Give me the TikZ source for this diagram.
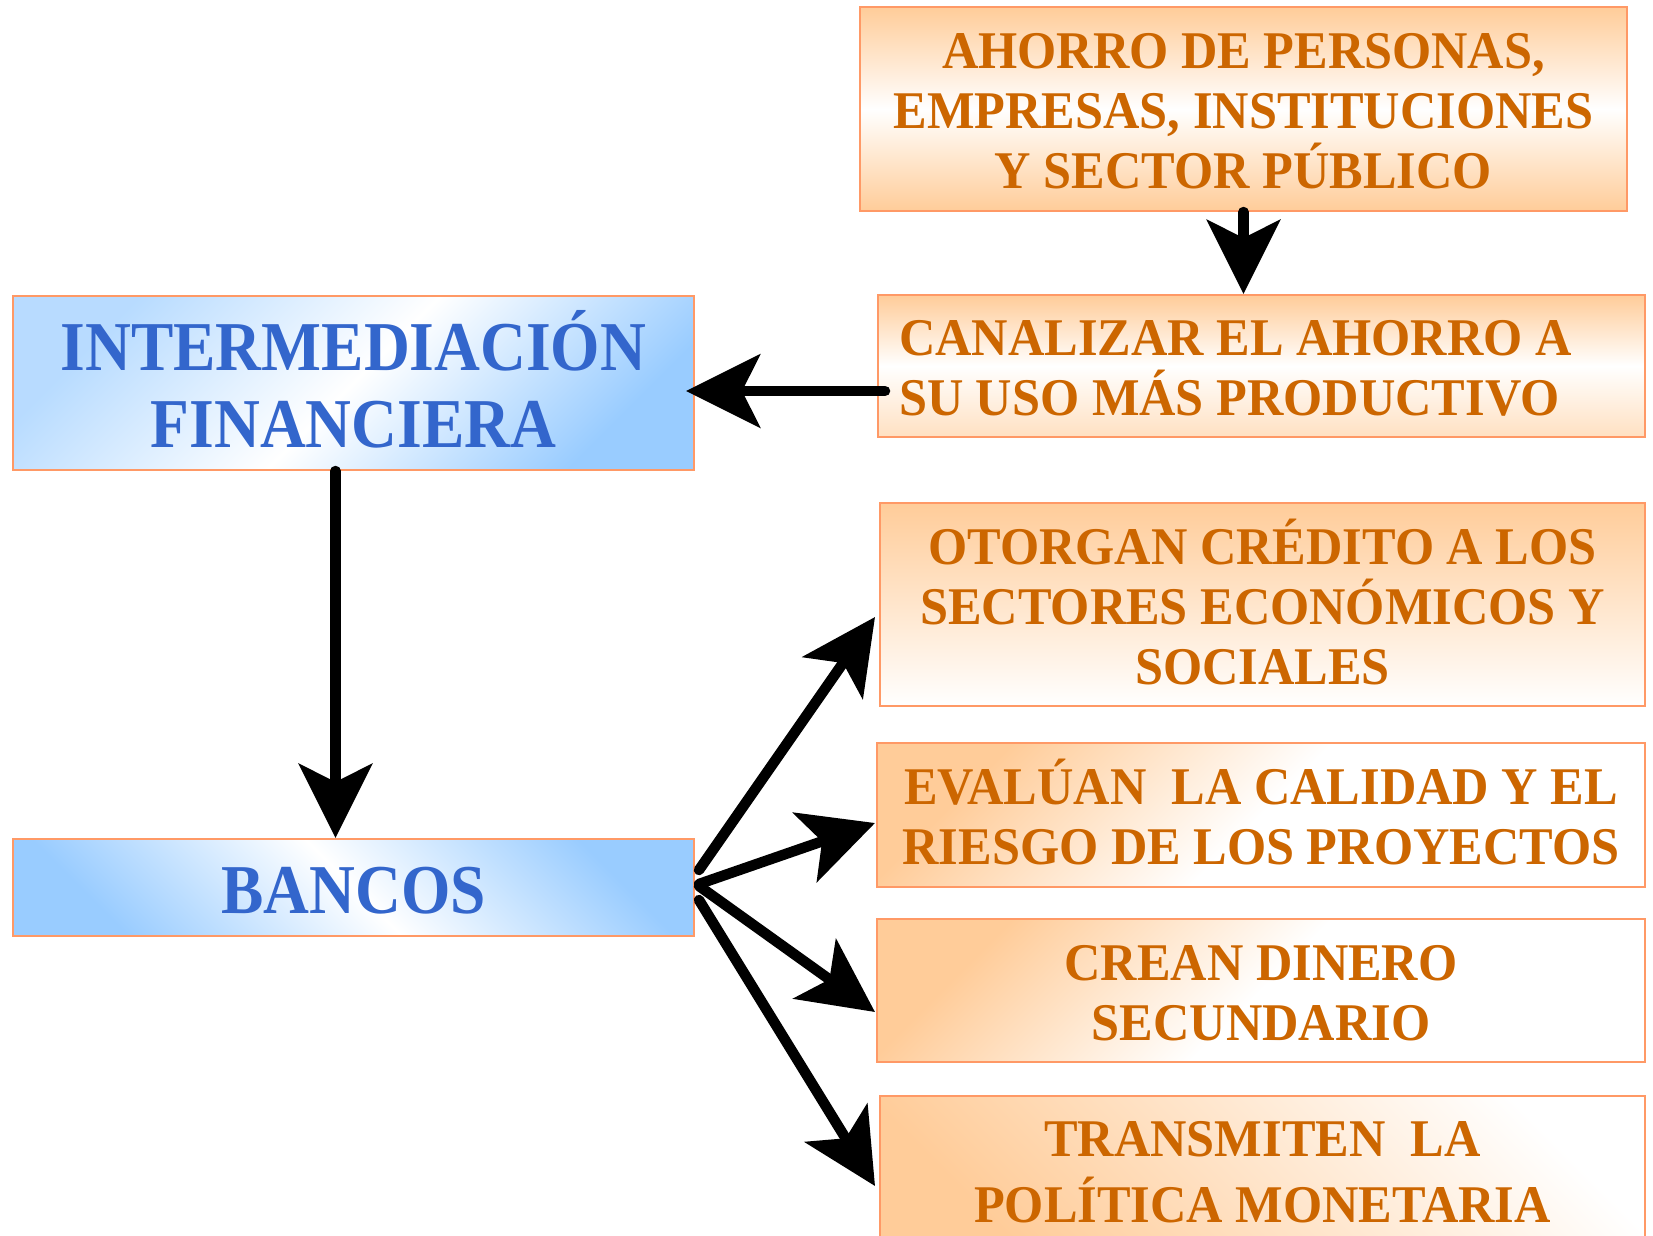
\documentclass[tikz,border=0pt]{standalone}
\usepackage{fontspec}
\setmainfont{Liberation Serif}
\newfontfamily\ofont{Liberation Serif}[FakeStretch=0.95]
\newfontfamily\bfont{Liberation Serif}[FakeStretch=0.907]
\usetikzlibrary{arrows.meta}
\definecolor{txtor}{HTML}{CC6600}
\definecolor{txtbl}{HTML}{3366CC}
\definecolor{bord}{HTML}{FF9966}
\definecolor{peach}{HTML}{FFCC99}
\definecolor{lblue}{HTML}{99CCFF}
\newcommand\sx{\rule[-0.22em]{0pt}{1.19em}}
\tikzset{
  obox/.style={draw=bord, line width=2pt, inner sep=0pt, align=center, text=txtor,
    font={\ofont\bfseries\fontsize{53}{60}\selectfont\lineskiplimit=-\maxdimen}},
  bbox/.style={draw=bord, line width=2pt, inner sep=0pt, align=center, text=txtbl,
    font={\bfont\bfseries\fontsize{70}{77}\selectfont\lineskiplimit=-\maxdimen}},
  conn/.style={line width=10.5pt, line cap=round, -{Stealth[length=74pt,width=73pt,inset=18pt]}}
}
\begin{document}
\begin{tikzpicture}[x=1pt,y=-1pt]
\useasboundingbox[fill=white] (0,0) rectangle (1653,1235);

\node[obox, minimum width=767pt, minimum height=204pt,
  top color=peach, bottom color=peach, middle color=white] (ahorro) at (1243.5,109)
  {\sx AHORRO DE PERSONAS,\\\sx EMPRESAS, INSTITUCIONES\\\sx Y SECTOR PÚBLICO};

\node[obox, minimum width=767pt, minimum height=142pt, text width=725pt, align=left,
  top color=peach, bottom color=peach!60, middle color=white] (canal) at (1261.5,366)
  {\spaceskip=0pt\xspaceskip=0pt\sx CANALIZAR EL AHORRO A\\\sx SU USO MÁS PRODUCTIVO};

\node[bbox, minimum width=681pt, minimum height=174pt,
  top color=lblue!70, bottom color=lblue, middle color=white, shading angle=45] (inter) at (353.5,383)
  {\sx INTERMEDIACIÓN\\\sx FINANCIERA};

\node[bbox, minimum width=681pt, minimum height=97pt,
  top color=lblue, bottom color=lblue, middle color=white, shading angle=-45] (bancos) at (353.5,887.5)
  {\sx BANCOS};

\node[obox, minimum width=765pt, minimum height=203pt,
  top color=peach, bottom color=white] (otorgan) at (1262.5,604.5)
  {\sx OTORGAN CRÉDITO A LOS\\\sx SECTORES ECONÓMICOS Y\\\sx SOCIALES};

\node[obox, minimum width=768pt, minimum height=144pt,
  top color=peach, bottom color=white, middle color=white, shading angle=45] (evaluan) at (1261,815)
  {\sx EVALÚAN\ \ LA CALIDAD Y EL\\\sx RIESGO DE LOS PROYECTOS};

\node[obox, minimum width=768pt, minimum height=143pt,
  top color=peach, bottom color=white, middle color=white, shading angle=45] (crean) at (1261,990.5)
  {\sx CREAN DINERO\\\sx SECUNDARIO};

\node[obox, minimum width=765pt, minimum height=148pt,
  top color=white, middle color=white, bottom color=peach, shading angle=-45] (trans) at (1262.5,1170)
  {\sx TRANSMITEN\ \ LA\\[6pt]\sx POLÍTICA MONETARIA};

\draw[conn] (ahorro.south) -- (ahorro.south |- canal.north);
\draw[conn] ([xshift=8pt,yshift=-25pt]canal.west) -- ([xshift=-9pt,yshift=-8pt]inter.east);
\draw[conn] ([xshift=-18pt]inter.south) -- ([xshift=-18pt]bancos.north);
\draw[conn] ([xshift=4pt,yshift=17.5pt]bancos.east) -- ([xshift=-4pt,yshift=-12.5pt]otorgan.west);
\draw[conn] ([xshift=4pt,yshift=3.5pt]bancos.east) -- ([xshift=-1pt,yshift=-8pt]evaluan.west);
\draw[conn] ([xshift=4pt,yshift=1.5pt]bancos.east) -- ([xshift=-1pt,yshift=-21.5pt]crean.west);
\draw[conn] ([xshift=4pt,yshift=-12.5pt]bancos.east) -- ([xshift=-4pt,yshift=-16pt]trans.west);
\end{tikzpicture}
\end{document}
